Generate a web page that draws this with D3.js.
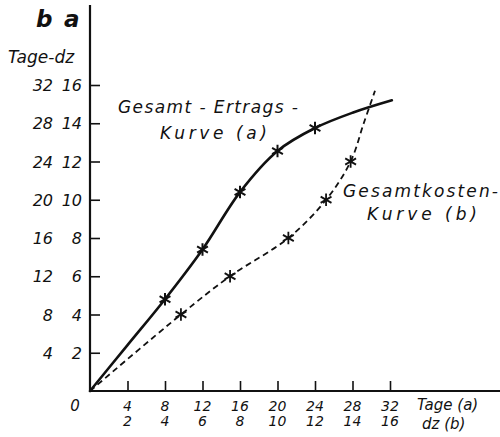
<!DOCTYPE html>
<html>
<head>
<meta charset="utf-8">
<script src="https://cdn.jsdelivr.net/npm/d3@7"></script>
<style>
  html, body { margin: 0; padding: 0; background: #fff; }
  text { font-family: "DejaVu Sans", sans-serif; font-style: italic; fill: #111; }
</style>
</head>
<body>
<svg id="chart" width="500" height="437"></svg>
<script>
// ---- data ----
const tageTicks = [4, 8, 12, 16, 20, 24, 28, 32];
const dzTicks = [2, 4, 6, 8, 10, 12, 14, 16];
// Gesamt-Ertrags-Kurve (a): x = Tage, y = dz
const ertragTage = [0, 4, 8, 12, 16, 20, 24, 28, 32.2];
const ertragDz   = [0, 2.4, 4.8, 7.4, 10.4, 12.55, 13.75, 14.55, 15.2];
const ertragMarkTage = [8, 12, 16, 20, 24];
const ertragMarkDz   = [4.8, 7.4, 10.4, 12.55, 13.75];
// Gesamtkosten-Kurve (b): x = dz, y = Tage
const kostenDz   = [0, 4.85, 7.47, 10.58, 12.59, 13.9, 14.6, 15.2];
const kostenTage = [0, 8, 12, 16, 20, 24, 28, 31.4];
const kostenMarkDz   = [4.85, 7.47, 10.58, 12.59, 13.9];
const kostenMarkTage = [8, 12, 16, 20, 24];

const svg = d3.select("#chart");
const x0 = 90, y0 = 391;

const xTage = d3.scaleLinear().domain([0, 32]).range([x0, 390]);
const xDz   = d3.scaleLinear().domain([0, 16]).range([x0, 390]);
const yDz   = d3.scaleLinear().domain([0, 16]).range([y0, 85]);
const yTage = d3.scaleLinear().domain([0, 32]).range([y0, 85]);

// axes
const yAxis = d3.axisRight(yDz).tickValues(dzTicks).tickSize(10).tickSizeOuter(0).tickFormat("");
const gy = svg.append("g").attr("transform", `translate(${x0},0)`).call(yAxis);
gy.select(".domain").remove();
gy.selectAll(".tick line").attr("stroke", "#111").attr("stroke-width", 1.6);

const xAxis = d3.axisTop(xTage).tickValues(tageTicks).tickSize(10).tickSizeOuter(0).tickFormat("");
const gx = svg.append("g").attr("transform", `translate(0,${y0})`).call(xAxis);
gx.select(".domain").remove();
gx.selectAll(".tick line").attr("stroke", "#111").attr("stroke-width", 1.6);

svg.append("line").attr("x1", x0).attr("x2", x0).attr("y1", 5).attr("y2", y0 + 1)
  .attr("stroke", "#111").attr("stroke-width", 2.2);
svg.append("line").attr("x1", x0 - 1).attr("x2", 500).attr("y1", y0).attr("y2", y0)
  .attr("stroke", "#111").attr("stroke-width", 2.2);

// y labels
svg.append("g").selectAll("text").data(tageTicks).join("text")
  .attr("x", 53).attr("y", d => yTage(d) + 6).attr("text-anchor", "end")
  .attr("font-size", 16).text(d => d);
svg.append("g").selectAll("text").data(dzTicks).join("text")
  .attr("x", 82).attr("y", d => yDz(d) + 6).attr("text-anchor", "end")
  .attr("font-size", 16).text(d => d);
svg.append("text").attr("x", 8).attr("y", 63).attr("font-size", 17).text("Tage-dz");
svg.append("text").attr("x", 36).attr("y", 27).attr("font-size", 23).attr("font-weight", "bold").text("b");
svg.append("text").attr("x", 64).attr("y", 27).attr("font-size", 23).attr("font-weight", "bold").text("a");

// x labels
svg.append("text").attr("x", 75).attr("y", 411).attr("text-anchor", "middle").attr("font-size", 15).text("0");
svg.append("g").selectAll("text").data(tageTicks).join("text")
  .attr("x", d => xTage(d)).attr("y", 411).attr("text-anchor", "middle")
  .attr("font-size", 14).text(d => d);
svg.append("g").selectAll("text").data(dzTicks).join("text")
  .attr("x", d => xDz(d)).attr("y", 426).attr("text-anchor", "middle")
  .attr("font-size", 14).text(d => d);
svg.append("text").attr("x", 417).attr("y", 410).attr("font-size", 15).text("Tage (a)");
svg.append("text").attr("x", 422).attr("y", 429).attr("font-size", 15).text("dz  (b)");

// curves
const ertrag = ertragTage.map((t, i) => [xTage(t), yDz(ertragDz[i])]);
const kosten = kostenDz.map((d, i) => [xDz(d), yTage(kostenTage[i])]);
const line = d3.line().curve(d3.curveCatmullRom.alpha(0.5));

svg.append("path").attr("d", line(ertrag)).attr("fill", "none")
  .attr("stroke", "#111").attr("stroke-width", 2.6).attr("stroke-linecap", "round");
svg.append("path").attr("d", line(kosten)).attr("fill", "none")
  .attr("stroke", "#111").attr("stroke-width", 1.8).attr("stroke-dasharray", "6,4");

// markers
const star = d3.symbol().type(d3.symbolAsterisk).size(110);
svg.append("g").selectAll("path").data(ertragMarkTage).join("path")
  .attr("transform", (d, i) => `translate(${xTage(d)},${yDz(ertragMarkDz[i])})`)
  .attr("d", star).attr("fill", "none").attr("stroke", "#111").attr("stroke-width", 2);
svg.append("g").selectAll("path").data(kostenMarkDz).join("path")
  .attr("transform", (d, i) => `translate(${xDz(d)},${yTage(kostenMarkTage[i])})`)
  .attr("d", star).attr("fill", "none").attr("stroke", "#111").attr("stroke-width", 1.8);

// annotations
svg.append("text").attr("x", 118).attr("y", 113).attr("font-size", 17)
  .attr("textLength", 180).attr("lengthAdjust", "spacing").text("Gesamt - Ertrags -");
svg.append("text").attr("x", 160).attr("y", 139).attr("font-size", 17)
  .attr("textLength", 107).attr("lengthAdjust", "spacing").text("Kurve (a)");
svg.append("text").attr("x", 343).attr("y", 197).attr("font-size", 17)
  .attr("textLength", 155).attr("lengthAdjust", "spacing").text("Gesamtkosten-");
svg.append("text").attr("x", 367).attr("y", 220).attr("font-size", 17)
  .attr("textLength", 110).attr("lengthAdjust", "spacing").text("Kurve (b)");
</script>
</body>
</html>
